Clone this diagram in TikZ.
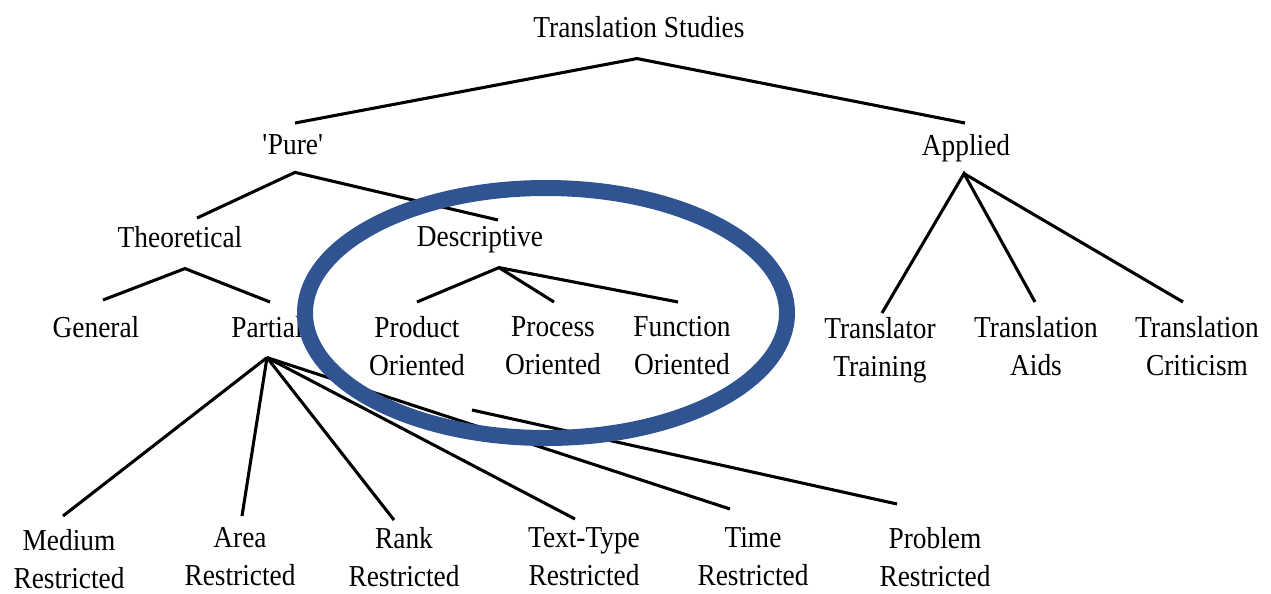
\documentclass[tikz,border=0pt]{standalone}
\usepackage{fontspec}
\setmainfont{Liberation Serif}[FakeStretch=0.9]
\usetikzlibrary{calc}
\newcommand{\trfont}{\fontsize{22.8pt}{28.5pt}\selectfont}
\definecolor{ringblue}{RGB}{47,84,145}

\begin{document}
\begin{tikzpicture}[x=0.75pt,y=0.75pt,yscale=-1,xscale=1,
  lbl/.style={font=\trfont, align=center, inner sep=0pt, anchor=north},
  conn/.style={line width=2.3pt},
  ring/.style={draw=ringblue, line width=12pt}]
\useasboundingbox (0,0) rectangle (1271,593);

% Text Node
\node[lbl] (ts) at (639,16.2) {Translation Studies};
% Text Node
\node[lbl] (pure) at (293,134.2) {\textquotesingle Pure\textquotesingle};
% Text Node
\node[lbl] (applied) at (966,134.2) {Applied};
% Text Node
\node[lbl] (theo) at (180,226.2) {Theoretical};
% Text Node
\node[lbl] (desc) at (480,226.2) {Descriptive};
% Text Node
\node[lbl] (general) at (96,316.2) {General};
% Text Node
\node[lbl] (partial) at (267,316.2) {Partial};
% Text Node
\node[lbl] (product) at (417,316.2) {Product\\Oriented};
% Text Node
\node[lbl] (process) at (553,316.2) {Process\\Oriented};
% Text Node
\node[lbl] (function) at (682,316.2) {Function\\Oriented};
% Text Node
\node[lbl] (trainer) at (880,317.2) {Translator\\Training};
% Text Node
\node[lbl] (aids) at (1036,316.2) {Translation\\Aids};
% Text Node
\node[lbl] (critic) at (1197,316.2) {Translation\\Criticism};
% Text Node
\node[lbl] (medium) at (69,529.2) {Medium\\Restricted};
% Text Node
\node[lbl] (area) at (240,527.2) {Area\\Restricted};
% Text Node
\node[lbl] (rank) at (404,527.2) {Rank\\Restricted};
% Text Node
\node[lbl] (texttype) at (584,527.2) {Text-Type\\Restricted};
% Text Node
\node[lbl] (time) at (753,527.2) {Time\\Restricted};
% Text Node
\node[lbl] (problem) at (935,527.2) {Problem\\Restricted};

%Straight Lines
\draw[conn] ($(pure.north)+(2,-11.2)$) -- ($(ts.base)+(-2,21)$) -- ($(applied.north)+(-1,-11.2)$);
%Straight Lines
\draw[conn] ($(theo.north)+(17,-8.2)$) -- ($(pure.base)+(2,18)$) -- ($(desc.north)+(18,-6.2)$);
%Straight Lines
\draw[conn] ($(general.north)+(7,-16.2)$) -- ($(theo.base)+(5,21)$) -- ($(partial.north)+(3,-14.2)$);
%Straight Lines
\draw[conn] ($(product.north)+(0,-14.2)$) -- ($(desc.base)+(19,21)$) -- ($(process.north)+(1,-14.2)$);
\draw[conn] ($(desc.base)+(19,21)$) -- ($(function.north)+(-4,-14.2)$);
%Straight Lines
\draw[conn] ($(trainer.north)+(2,-4.2)$) -- ($(applied.base)+(-2,18)$) -- ($(aids.north)+(-1,-14.2)$);
\draw[conn] ($(applied.base)+(-2,18)$) -- ($(critic.north)+(-14,-14.2)$);
%Straight Lines
\coordinate (pa) at ($(partial.base)+(0,20)$);
\draw[conn] (pa) -- ($(medium.north)+(-6,-13.2)$);
\draw[conn] (pa) -- ($(area.north)+(2,-11.2)$);
\draw[conn] (pa) -- ($(rank.north)+(-10,-7.2)$);
\draw[conn] (pa) -- ($(texttype.north)+(-9,-8.2)$);
\draw[conn] (pa) -- ($(time.north)+(-23,-18.2)$);
%Straight Lines
\coordinate (pb) at (472,410);
\draw[conn] (pb) -- ($(problem.north)+(-38,-23.2)$);

%Shape: Ellipse
\draw[ring] (546,313) ellipse [x radius=241, y radius=125];

\end{tikzpicture}
\end{document}
